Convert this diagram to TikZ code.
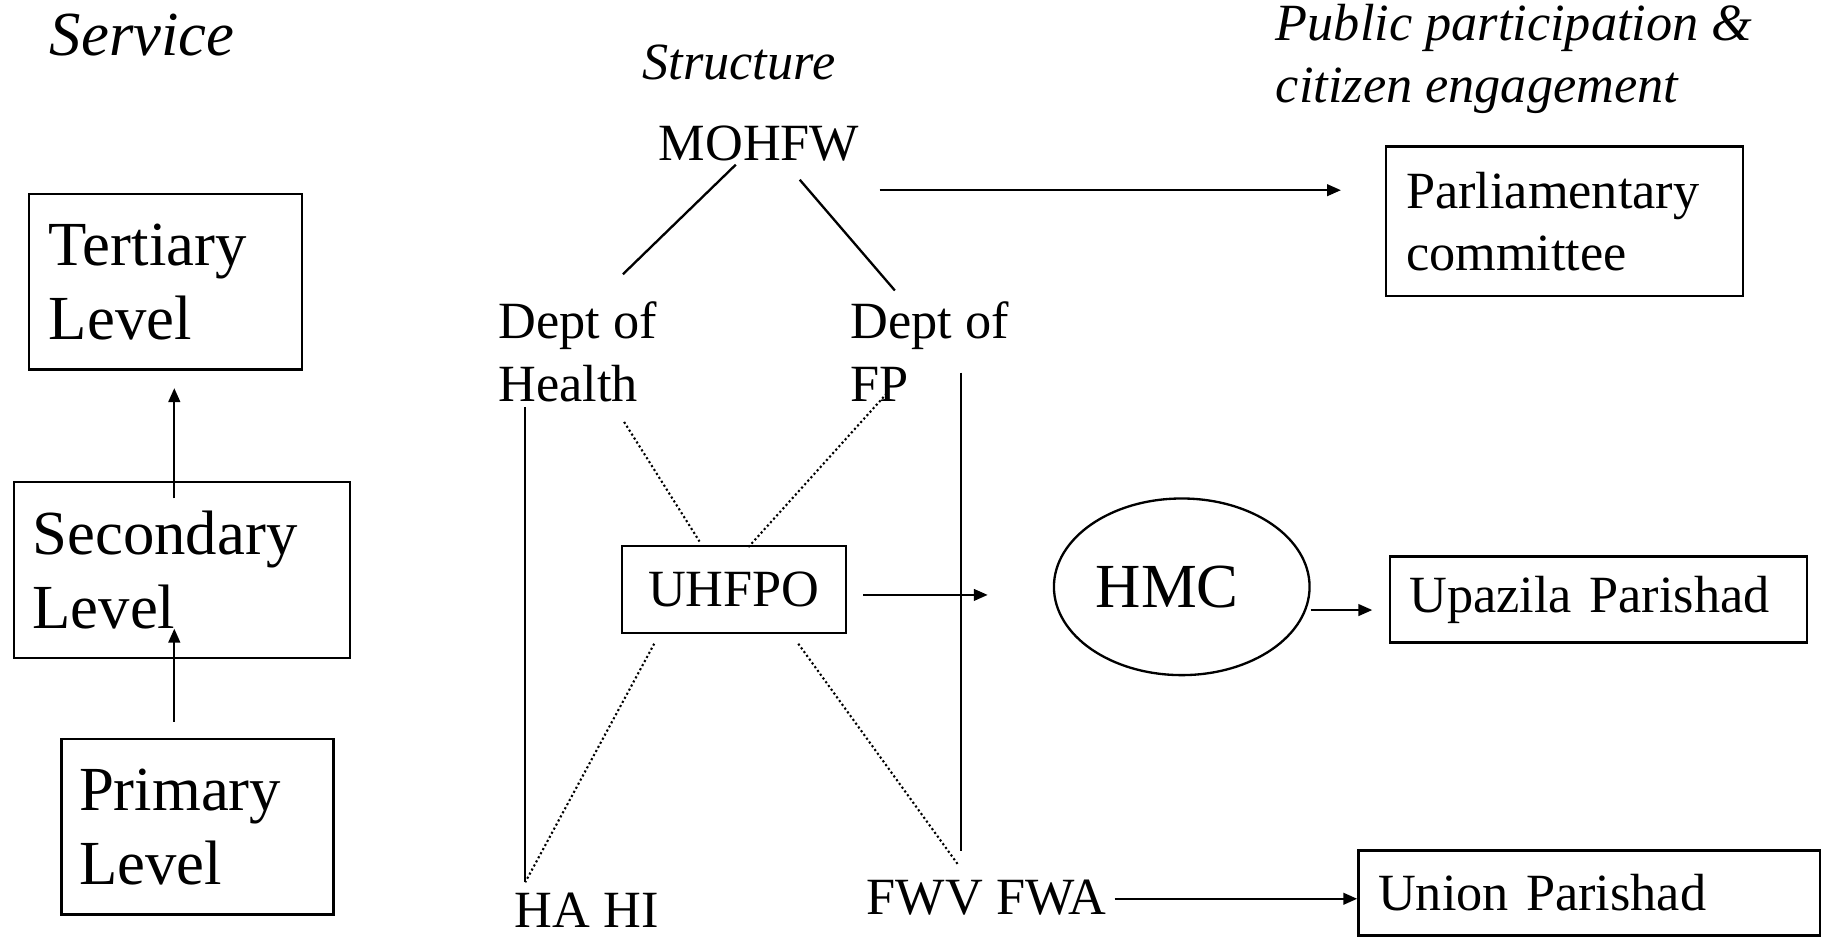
\documentclass[tikz,border=0pt]{standalone}
\usepackage{fontspec}
\setmainfont{Liberation Serif}
\usetikzlibrary{calc,arrows.meta,shapes.geometric}

\begin{document}
\begin{tikzpicture}[x=0.5pt,y=-0.5pt,line width=1pt,>={Triangle[length=6pt,width=5pt]},
	big/.style={font=\fontsize{27}{32}\selectfont},
	med/.style={font=\fontsize{22.5}{27}\selectfont},
	lvl/.style={draw,big,align=left,minimum height=75.5pt},
	org/.style={draw,med,align=left},
	txt/.style={inner sep=0pt},
	dots/.style={line width=0.9pt,dash pattern=on 0.9pt off 1.1pt}]
	\useasboundingbox (0,0) rectangle (1568,806);
	% service levels
	\node[txt,big,anchor=base west] (serv) at (42,48) {\itshape Service};
	\node[lvl,text width=100.5pt,inner xsep=8.5pt] (ter) at (142.5,242.5) {Tertiary\\Level};
	\node[lvl,text width=128.5pt,inner xsep=8pt] (sec) at (156.5,490.5) {Secondary\\Level};
	\node[lvl,text width=102pt,inner xsep=7.5pt] (pri) at (170,711.5) {Primary\\Level};
	% structure
	\node[txt,med,anchor=base west] (struc) at (552,68) {\itshape Structure};
	\node[txt,med,anchor=base west] (mohfw) at (566,138) {MOHFW};
	\node[txt,med,align=left,anchor=north west] (dh) at (428,259) {Dept of\\Health};
	\node[txt,med,align=left,anchor=north west] (dfp) at (731,259) {Dept of\\FP};
	\node[org,minimum width=96.5pt,minimum height=37.5pt] (uhfpo) at (631.5,507.5) {UHFPO};
	\node[txt,med,anchor=base west] (hahi) at (442,798) {HA HI};
	\node[txt,med,anchor=base west] (fwv) at (745,787) {FWV FWA};
	\node[draw,ellipse,big,inner sep=0pt,minimum width=110pt,minimum height=76pt,
		text width=74pt,align=left] (hmc) at (1017,505) {HMC};
	% public participation
	\node[txt,anchor=north west,align=left,font=\fontsize{22.5}{26.5}\selectfont\itshape]
		(pub) at (1097,3) {Public participation \&\\citizen engagement};
	\node[org,text width=136.5pt,inner xsep=8.5pt,minimum height=64.5pt,
		font=\fontsize{22.5}{26.5}\selectfont] (parl) at (1346.5,190.5) {Parliamentary\\committee};
	\node[org,text width=162.5pt,inner xsep=8.5pt,minimum height=37pt] (upz) at (1375.5,516) {Upazila Parishad};
	\node[org,text width=181.5pt,inner xsep=8.5pt,minimum height=36.5pt] (unp) at (1367.5,768.5) {Union Parishad};

	\draw[->] ($(pri.north)+(-20,-14)$) -- ($(sec.south)+(-6.5,-26)$);
	\draw[->] ($(sec.north)+(-6.5,15)$) -- ($(ter.south)+(7.5,15)$);

	\draw ($(mohfw.south)+(-20,2)$) -- ($(dh.north)+(39,-23)$);
	\draw ($(mohfw.south)+(35,15)$) -- ($(dfp.north)+(-30,-9)$);
	\draw[->,shorten >=19pt] ($(mohfw.south east)+(16.5,24)$) coordinate (m1) -- (m1 -| parl.west);
	\coordinate (dhtop) at ($(dh.south west)+(24,3)$);
	\draw (dhtop) -- ($(dhtop |- hahi.north)+(0,-8)$);
	\coordinate (fptop) at ($(dfp.south east)+(-42,-26)$);
	\draw (fptop) -- ($(fptop |- fwv.north)+(0,-24)$);

	\draw[dots] ($(dh.south)+(40,16)$) -- ($(uhfpo.north)+(-29.5,-3)$);
	\draw[dots] ($(dfp.south)+(-37,-8)$) -- ($(uhfpo.north)+(11.5,3)$);
	\draw[dots] ($(uhfpo.south)+(-68.5,8)$) -- ($(hahi.north west)+(10,-8)$);
	\draw[dots] ($(uhfpo.south)+(55.5,8)$) -- ($(fwv.north)+(-24.5,-12)$);

	\draw[->,shorten >=28pt] ($(uhfpo.east)+(14,4.5)$) coordinate (u1) -- (u1 -| hmc.west);
	\draw[->,shorten >=7pt] ($(hmc.east)+(0,20)$) coordinate (h1) -- (h1 -| upz.west);
	\draw[->] ($(fwv.east)+(6,1)$) coordinate (f1) -- (f1 -| unp.west);
\end{tikzpicture}
\end{document}
